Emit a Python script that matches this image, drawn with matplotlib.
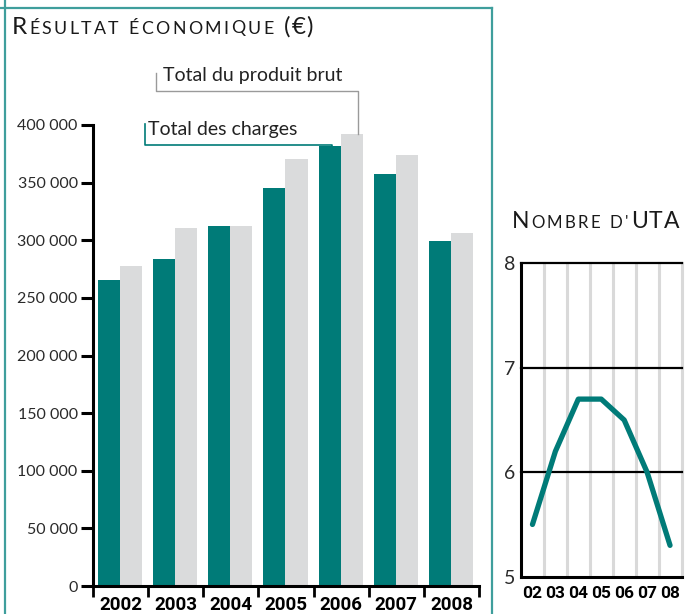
import matplotlib
matplotlib.use('Agg')
import matplotlib.pyplot as plt
from matplotlib.lines import Line2D
import numpy as np

# ---------------- data ----------------
years = ['2002', '2003', '2004', '2005', '2006', '2007', '2008']
charges = [265500, 283700, 312400, 345300, 381800, 357500, 299300]   # Total des charges
produit = [277700, 310600, 312400, 370500, 392200, 374000, 306300]   # Total du produit brut
y_ticks = [0, 50000, 100000, 150000, 200000, 250000, 300000, 350000, 400000]
y_tick_labels = ['0', '50 000', '100 000', '150 000', '200 000', '250 000',
                 '300 000', '350 000', '400 000']

uta_labels = ['02', '03', '04', '05', '06', '07', '08']
uta = [5.5, 6.2, 6.7, 6.7, 6.5, 6.0, 5.3]
uta_ticks = [5, 6, 7, 8]

# ---------------- style ----------------
TEAL = '#007b78'
GRAY = '#dadbdc'
FRAME = '#3f9e9c'
GRIDV = '#d9d9d9'
FONT = 'Lato'
BOLD = 'Roboto'

W, H = 685, 614
fig = plt.figure(figsize=(W / 100, H / 100), dpi=100)


def fx(px):
    return px / W


def fy(py):
    return 1 - py / H


# ---------------- frame lines ----------------
for xs, ys in [([4.5, 4.5], [0, 614]), ([0, 491.5], [7.5, 7.5]), ([491.5, 491.5], [7.5, 614])]:
    fig.add_artist(Line2D([fx(v) for v in xs], [fy(v) for v in ys], color=FRAME, lw=1.6,
                          transform=fig.transFigure))

# ---------------- left chart ----------------
ax = fig.add_axes([fx(93), fy(586), (479 - 93) / W, (586 - 125) / H])
x = np.arange(len(years))
ax.bar(x - 0.21, charges, width=0.40, color=TEAL, linewidth=0)
ax.bar(x + 0.19, produit, width=0.40, color=GRAY, linewidth=0)
ax.set_xlim(-0.5, len(years) - 0.5)
ax.set_ylim(0, 400000)
for s in ['top', 'right']:
    ax.spines[s].set_visible(False)
for s in ['left', 'bottom']:
    ax.spines[s].set_linewidth(2.2)
    ax.spines[s].set_color('black')
ax.set_yticks(y_ticks)
ax.set_yticklabels(y_tick_labels, fontsize=11.5, family=FONT, color='#2a2a2a')
ax.tick_params(axis='y', direction='out', length=8.5, width=2.2, pad=2.5)
ax.set_xticks(np.arange(-0.5, len(years)), minor=False)
ax.set_xticklabels([])
ax.tick_params(axis='x', which='major', direction='out', length=8, width=2.0)
ax.set_xticks(x, minor=True)
ax.set_xticklabels(years, minor=True, fontsize=13.5, family=BOLD, fontweight='bold')
ax.tick_params(axis='x', which='minor', length=0, pad=7)

# legend brackets
ax.add_line(Line2D([0.637, 0.637, 4.30, 4.30], [445400, 429800, 429800, produit[4]],
                   color='#9a9a9a', lw=1.0, clip_on=False))
ax.add_line(Line2D([0.443, 0.443, 3.83, 3.83], [400900, 382600, 382600, charges[4]],
                   color=TEAL, lw=1.2, clip_on=False))
ax.text(0.77, 438400, 'Total du produit brut', family=FONT, fontsize=14, va='baseline',
        color='#222222')
ax.text(0.497, 391300, 'Total des charges', family=FONT, fontsize=14, va='baseline',
        color='#222222')

# ---------------- right chart ----------------
ax2 = fig.add_axes([fx(521), fy(576.7), (681.5 - 521) / W, (576.7 - 263.3) / H])
xu = np.arange(len(uta))
ax2.set_xlim(-0.5, len(uta) - 0.5)
ax2.set_ylim(5, 8)
for v in np.arange(0.5, len(uta), 1):
    ax2.axvline(v, color=GRIDV, lw=2.2, zorder=0, clip_on=False)
for v in uta_ticks[1:]:
    ax2.axhline(v, color='black', lw=1.6, zorder=1, clip_on=False)
ax2.plot(xu, uta, color=TEAL, lw=3.8, solid_capstyle='round', solid_joinstyle='round', zorder=3)
for s in ['top', 'right']:
    ax2.spines[s].set_visible(False)
for s in ['left', 'bottom']:
    ax2.spines[s].set_linewidth(2.2)
    ax2.spines[s].set_color('black')
ax2.set_yticks(uta_ticks)
ax2.set_yticklabels([str(v) for v in uta_ticks], fontsize=14, family=FONT, color='#2a2a2a')
ax2.tick_params(axis='y', length=0, pad=4)
ax2.set_xticks(xu)
ax2.set_xticklabels(uta_labels, fontsize=12.5, family=BOLD, fontweight='bold')
ax2.tick_params(axis='x', length=0, pad=7)


# ---------------- small-caps titles ----------------
def smallcaps(x_px, base_px, pieces, color='#1a1a1a'):
    r = fig.canvas.get_renderer()
    xp = x_px
    for txt, size, track in pieces:
        for ch in txt:
            if ch == ' ':
                xp += size * 100 / 72 * 0.28 + track
                continue
            t = fig.text(fx(xp), fy(base_px), ch, fontsize=size, family=FONT,
                         va='baseline', ha='left', color=color)
            w = t.get_window_extent(r).width
            xp += w + track
    return xp


smallcaps(12, 33.5, [('R', 17.5, 1.8), ('ÉSULTAT ÉCONOMIQUE', 12.8, 2.4), (' (€)', 17.5, 1.2)])
smallcaps(511.5, 228.3, [('N', 16.5, 1.8), ("OMBRE D'", 12.2, 2.4), ('UTA', 16.5, 1.2)])

fig.savefig('out.png', dpi=100)
